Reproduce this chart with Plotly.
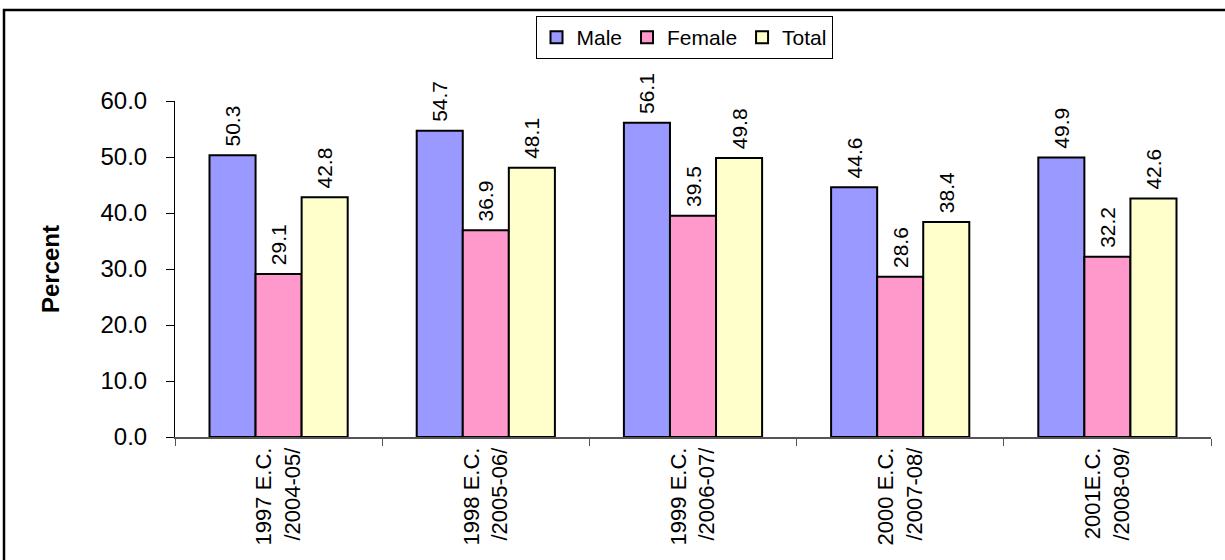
import plotly.graph_objects as go

# Academic years (E.C. with Gregorian equivalent)
years = [
    "1997 E.C.<br>/2004-05/",
    "1998 E.C.<br>/2005-06/",
    "1999 E.C.<br>/2006-07/",
    "2000 E.C.<br>/2007-08/",
    "2001E.C.<br>/2008-09/",
]
male = [50.3, 54.7, 56.1, 44.6, 49.9]
female = [29.1, 36.9, 39.5, 28.6, 32.2]
total = [42.8, 48.1, 49.8, 38.4, 42.6]

y_ticks = [0, 10, 20, 30, 40, 50, 60]

FONT = "Liberation Sans, Arial, sans-serif"

series = [
    ("Male", male, "#9999FF"),
    ("Female", female, "#FF99CC"),
    ("Total", total, "#FFFFCC"),
]

fig = go.Figure()
for name, vals, color in series:
    fig.add_trace(go.Bar(
        name=name,
        x=years,
        y=vals,
        marker=dict(color=color, line=dict(color="black", width=2)),
        # leading non-breaking space keeps the rotated value clear of the bar top
        text=[f"\u00a0{v:.1f}" for v in vals],
        textposition="outside",
        textangle=-90,
        textfont=dict(family=FONT, size=21, color="black"),
        constraintext="none",
        cliponaxis=False,
    ))

# Page geometry (pixels)
W, H = 1225, 560
L, R, T, B = 175, 14, 101, 123
pw, ph = W - L - R, H - T - B

def px_x(p):
    return (p - L) / pw
def px_y(p):
    return (H - B - p) / ph

# Outer chart frame
fig.add_shape(
    type="rect", xref="paper", yref="paper",
    x0=px_x(4), x1=px_x(1240), y0=px_y(10), y1=px_y(580),
    line=dict(color="black", width=2.5), fillcolor="rgba(0,0,0,0)",
    layer="above",
)

fig.update_layout(
    width=W, height=H,
    margin=dict(l=L, r=R, t=T, b=B),
    paper_bgcolor="white",
    plot_bgcolor="white",
    barmode="group",
    bargap=0.333,
    bargroupgap=0,
    font=dict(family=FONT, color="black"),
    showlegend=True,
    legend=dict(
        orientation="h",
        x=px_x(684), xanchor="center",
        y=px_y(16), yanchor="top",
        bgcolor="white",
        bordercolor="black",
        borderwidth=1,
        font=dict(family=FONT, size=21, color="black"),
        itemwidth=30,
        traceorder="normal",
    ),
    xaxis=dict(
        type="category",
        tickson="boundaries",
        ticks="outside",
        ticklen=7,
        tickcolor="#555555",
        showline=True,
        linecolor="#555555",
        linewidth=1.5,
        showgrid=False,
        tickangle=-90,
        tickfont=dict(family=FONT, size=22, color="black"),
        range=[-0.5, 4.5],
    ),
    yaxis=dict(
        range=[0, 60],
        tickvals=y_ticks,
        tickformat=".1f",
        ticks="outside",
        ticklen=8,
        tickcolor="black",
        showline=True,
        linecolor="black",
        linewidth=1,
        showgrid=False,
        zeroline=False,
        ticklabelstandoff=14,
        tickfont=dict(family=FONT, size=24, color="black"),
        title=dict(
            text="<b>Percent</b>",
            font=dict(family=FONT, size=24, color="black"),
            standoff=34,
        ),
    ),
)

fig.write_html("out.html")
